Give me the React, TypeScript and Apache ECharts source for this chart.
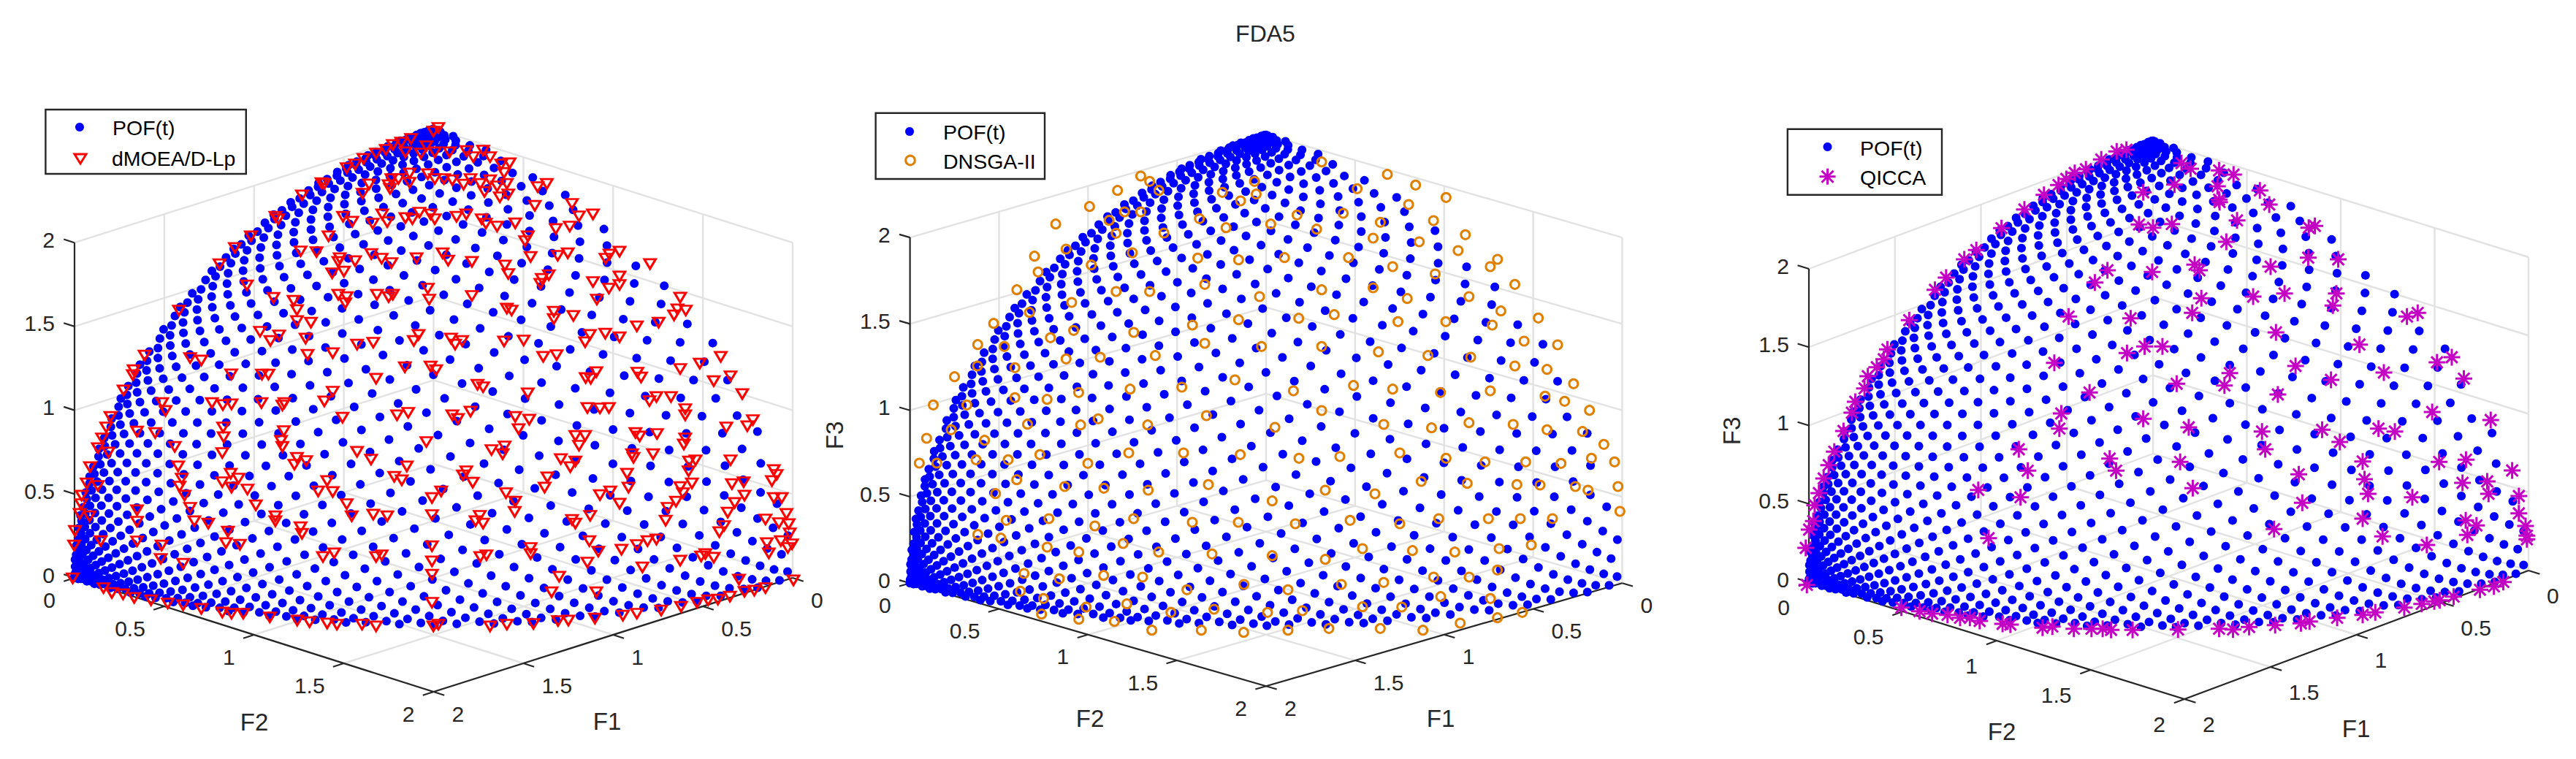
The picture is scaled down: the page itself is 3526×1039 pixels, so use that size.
import React, { useEffect, useRef } from "react";
import * as echarts from "echarts";

// ---- tick labels ----
const TICKS = [0, 0.5, 1, 1.5, 2];
const TICK_LABELS = ["0", "0.5", "1", "1.5", "2"];

// ---- POF(t) ----
// NOT read dot by dot: the picture's dots fit a regular lattice, so this is that inferred lattice,
// typed out and checked by eye against the reference. Each entry is the second surface coordinate
// (in 1/987ths) of one sample; the array position is the first surface coordinate, also in 1/987ths.
const POF_STEPS = 987;
const POF_WARP = 1.75;
const POF_X2 = [
  0,377,754,144,521,898,288,665,55,432,809,199,576,953,343,720,110,487,864,254,631,21,398,775,165,542,919,309,686,76,453,830,220,597,974,364,741,131,508,885,275,652,42,419,796,186,563,940,330,707,97,474,851,241,618,
  8,385,762,152,529,906,296,673,63,440,817,207,584,961,351,728,118,495,872,262,639,29,406,783,173,550,927,317,694,84,461,838,228,605,982,372,749,139,516,893,283,660,50,427,804,194,571,948,338,715,105,482,859,249,626,
  16,393,770,160,537,914,304,681,71,448,825,215,592,969,359,736,126,503,880,270,647,37,414,791,181,558,935,325,702,92,469,846,236,613,3,380,757,147,524,901,291,668,58,435,812,202,579,956,346,723,113,490,867,257,634,
  24,401,778,168,545,922,312,689,79,456,833,223,600,977,367,744,134,511,888,278,655,45,422,799,189,566,943,333,710,100,477,854,244,621,11,388,765,155,532,909,299,676,66,443,820,210,587,964,354,731,121,498,875,265,642,
  32,409,786,176,553,930,320,697,87,464,841,231,608,985,375,752,142,519,896,286,663,53,430,807,197,574,951,341,718,108,485,862,252,629,19,396,773,163,540,917,307,684,74,451,828,218,595,972,362,739,129,506,883,273,650,
  40,417,794,184,561,938,328,705,95,472,849,239,616,6,383,760,150,527,904,294,671,61,438,815,205,582,959,349,726,116,493,870,260,637,27,404,781,171,548,925,315,692,82,459,836,226,603,980,370,747,137,514,891,281,658,
  48,425,802,192,569,946,336,713,103,480,857,247,624,14,391,768,158,535,912,302,679,69,446,823,213,590,967,357,734,124,501,878,268,645,35,412,789,179,556,933,323,700,90,467,844,234,611,1,378,755,145,522,899,289,666,
  56,433,810,200,577,954,344,721,111,488,865,255,632,22,399,776,166,543,920,310,687,77,454,831,221,598,975,365,742,132,509,886,276,653,43,420,797,187,564,941,331,708,98,475,852,242,619,9,386,763,153,530,907,297,674,
  64,441,818,208,585,962,352,729,119,496,873,263,640,30,407,784,174,551,928,318,695,85,462,839,229,606,983,373,750,140,517,894,284,661,51,428,805,195,572,949,339,716,106,483,860,250,627,17,394,771,161,538,915,305,682,
  72,449,826,216,593,970,360,737,127,504,881,271,648,38,415,792,182,559,936,326,703,93,470,847,237,614,4,381,758,148,525,902,292,669,59,436,813,203,580,957,347,724,114,491,868,258,635,25,402,779,169,546,923,313,690,
  80,457,834,224,601,978,368,745,135,512,889,279,656,46,423,800,190,567,944,334,711,101,478,855,245,622,12,389,766,156,533,910,300,677,67,444,821,211,588,965,355,732,122,499,876,266,643,33,410,787,177,554,931,321,698,
  88,465,842,232,609,986,376,753,143,520,897,287,664,54,431,808,198,575,952,342,719,109,486,863,253,630,20,397,774,164,541,918,308,685,75,452,829,219,596,973,363,740,130,507,884,274,651,41,418,795,185,562,939,329,706,
  96,473,850,240,617,7,384,761,151,528,905,295,672,62,439,816,206,583,960,350,727,117,494,871,261,638,28,405,782,172,549,926,316,693,83,460,837,227,604,981,371,748,138,515,892,282,659,49,426,803,193,570,947,337,714,
  104,481,858,248,625,15,392,769,159,536,913,303,680,70,447,824,214,591,968,358,735,125,502,879,269,646,36,413,790,180,557,934,324,701,91,468,845,235,612,2,379,756,146,523,900,290,667,57,434,811,201,578,955,345,722,
  112,489,866,256,633,23,400,777,167,544,921,311,688,78,455,832,222,599,976,366,743,133,510,887,277,654,44,421,798,188,565,942,332,709,99,476,853,243,620,10,387,764,154,531,908,298,675,65,442,819,209,586,963,353,730,
  120,497,874,264,641,31,408,785,175,552,929,319,696,86,463,840,230,607,984,374,751,141,518,895,285,662,52,429,806,196,573,950,340,717,107,484,861,251,628,18,395,772,162,539,916,306,683,73,450,827,217,594,971,361,738,
  128,505,882,272,649,39,416,793,183,560,937,327,704,94,471,848,238,615,5,382,759,149,526,903,293,670,60,437,814,204,581,958,348,725,115,492,869,259,636,26,403,780,170,547,924,314,691,81,458,835,225,602,979,369,746,
  136,513,890,280,657,47,424,801,191,568,945,335,712,102,479,856,246,623,13,390,767,157,534,911,301,678,68,445,822,212,589,966,356,733,123,500,877,267,644,34,411,788,178,555,932,322,699,89,466,843,233,610,
];

// ---- solution sets, as read in the plane of each subplot, per quadrant ----
const RED_UL = [[1550,150],[1525,210],[1555,235],[1505,240],[1450,235],[1435,195],[1405,205],[1470,180],[1380,225],[1345,240],[1300,262],[1270,285],[1240,300],[1160,365],[1150,362],[1080,412],[985,500],[995,510],[897,580],[840,628],[785,695],[1465,322],[1530,325],[1555,345],[1400,345],[1425,345],[1465,360],[1320,367],[1395,385],[1297,405],[1390,370],[1227,500],[1260,520],[1367,490],[1385,522],[1333,528],[1450,505],[1475,510],[1500,483],[1540,490],[1555,510],[1175,580],[1075,642],[1132,645],[1215,670],[1270,682],[1210,685],[1230,725],[1188,732],[1328,653],[1365,672],[1400,690],[1490,670],[1530,795],[1535,840],[883,782],[978,833],[1050,845],[1062,883],[1062,928],[1112,935],[1210,820],[1240,830],[1235,855],[1348,820],[1390,830],[1405,820],[640,885],[930,972],[967,1010],[998,987],[1093,1000],[1100,1067],[1190,1060],[1277,1025],[1335,1017],[1480,1010],[1497,985],[517,1070],[478,1130],[475,1150],[680,1080],[720,1090],[827,1147],[937,1148],[960,1148],[442,1213],[580,1265],[592,1297],[758,1265],[797,1273],[828,1270],[935,1265],[1017,1265],[1010,1275],[1160,1258],[1190,1218],[1345,1165],[1448,1118],[1540,1115],[1560,1130],[395,1322],[1225,1325],[1420,1315],[1460,1305]];
const RED_LL = [[380,15],[490,32],[555,38],[798,15],[800,55],[795,120],[365,60],[350,100],[388,118],[625,95],[322,178],[637,175],[650,225],[642,258],[825,205],[795,240],[853,225],[828,262],[885,270],[310,245],[350,255],[1015,30],[1005,70],[1010,95],[1062,140],[1095,153],[1053,168],[1277,115],[1327,147],[1170,235],[1138,278],[1190,280],[1455,175],[1410,218],[1437,232],[1525,75],[292,295],[290,330],[285,370],[320,380],[660,295],[680,345],[915,335],[985,380],[985,400],[1240,330],[1258,380],[1335,373],[1385,380],[490,355],[490,402],[695,400],[745,410],[1075,425],[1080,452],[1545,305],[1545,375],[268,440],[265,500],[360,482],[490,483],[578,500],[815,443],[808,490],[858,497],[1155,547],[1195,532],[1345,547],[1365,540],[1545,503],[1545,565],[575,555],[655,575],[1545,620],[1545,735],[260,635],[370,675],[400,695],[440,700],[480,715],[540,725],[600,738],[655,745],[720,760],[795,775],[828,780],[870,780],[965,795],[1063,808],[1107,815],[1170,820],[1205,825],[1295,825],[1345,832],[1550,832]];
const RED_UR = [[0,135],[40,235],[100,230],[125,255],[160,228],[185,255],[225,285],[255,280],[235,320],[20,345],[50,350],[90,368],[115,345],[150,365],[165,398],[185,350],[210,375],[245,365],[220,420],[250,408],[355,378],[388,365],[345,455],[478,447],[503,498],[553,490],[65,500],[100,490],[155,510],[170,528],[210,540],[275,527],[420,550],[470,540],[320,580],[310,600],[15,650],[35,680],[120,685],[238,700],[250,735],[330,665],[427,660],[463,650],[598,672],[612,655],[648,643],[757,694],[370,755],[395,740],[365,775],[648,745],[553,768],[648,780],[610,795],[567,840],[865,832],[120,825],[245,877],[262,885],[413,890],[413,920],[483,907],[855,880],[885,885],[843,905],[788,935],[710,950],[542,985],[525,1015],[597,980],[648,995],[45,1000],[85,1010],[60,1025],[235,1012],[305,1008],[375,1075],[423,1068],[935,1103],[1010,1075],[865,1125],[985,1175],[1045,1155],[527,1162],[565,1138],[545,1165],[712,1140],[725,1160],[140,1190],[160,1200],[320,1225],[755,1257],[780,1240],[832,1240],[1087,1228],[533,1285],[578,1287],[610,1285],[883,1290],[883,1315],[50,1315],[115,1300],[70,1330],[275,1322],[325,1333],[1125,1335]];
const RED_LR = [[1105,10],[1030,15],[287,22],[490,50],[525,50],[503,90],[705,38],[782,42],[720,52],[883,60],[878,85],[190,108],[237,93],[230,125],[438,145],[490,155],[472,178],[693,125],[698,140],[768,125],[897,155],[920,150],[1045,150],[895,195],[1200,190],[1210,210],[1193,235],[100,195],[88,212],[123,242],[390,220],[380,262],[675,205],[680,262],[907,245],[1050,248],[1092,240],[865,260],[875,285],[242,285],[275,320],[273,362],[10,278],[578,293],[615,278],[648,328],[1095,295],[1060,325],[1200,305],[1228,305],[850,320],[820,345],[1035,365],[1245,370],[148,378],[133,400],[160,410],[478,395],[490,410],[543,378],[813,398],[1170,393],[1218,408],[1253,412],[1022,420],[1005,445],[1257,450],[330,510],[540,482],[572,525],[655,517],[710,498],[748,482],[780,475],[1175,490],[1225,482],[1250,510],[1265,495],[1182,532],[150,547],[172,540],[330,535],[533,570],[865,562],[730,590],[940,545],[955,535],[985,550],[432,628],[1075,640],[1270,643],[405,692],[565,692],[428,810],[465,808],[560,800],[660,788],[710,780],[797,767],[868,752],[925,735],[965,725],[1000,722],[1043,710],[1095,690],[1130,685],[1170,675],[185,832],[245,825],[340,822],[0,825]];

const ORANGE_UL = [[1075,333],[1107,355],[1140,392],[992,392],[1482,355],[1367,400],[1488,407],[1432,435],[892,458],[1017,480],[1075,480],[962,515],[771,530],[1285,508],[1158,567],[987,568],[1380,545],[1540,530],[808,633],[695,662],[1045,648],[1279,670],[1425,677],[898,698],[708,727],[632,800],[987,807],[1107,807],[1304,778],[1500,828],[828,852],[677,893],[549,938],[1260,945],[1425,923],[835,967],[752,997],[1050,975],[492,1025],[587,1033],[1304,1020],[1507,1033],[930,1077],[1127,1070],[808,1084],[491,1113],[625,1120],[409,1157],[1412,1170],[1222,1200],[1037,1208],[853,1222],[625,1243],[740,1250],[333,1273],[453,1273],[1310,1317],[923,1330],[670,1352],[860,1355],[1100,1355],[397,1375],[1555,1365]];
const ORANGE_UR = [[285,215],[520,266],[621,310],[412,325],[730,361],[596,390],[362,426],[197,433],[685,456],[495,463],[267,491],[799,514],[469,528],[634,543],[773,579],[152,608],[381,608],[914,615],[888,645],[539,645],[691,675],[976,718],[285,740],[469,732],[812,768],[591,776],[926,827],[1060,856],[203,857],[330,842],[558,871],[729,871],[895,885],[1009,951],[1129,966],[285,973],[488,995],[665,1010],[818,1017],[976,1053],[1091,1067],[1186,1126],[184,1155],[399,1133],[539,1148],[710,1162],[888,1155],[1084,1177],[1154,1198],[1243,1235],[285,1236],[507,1293],[678,1307],[812,1286],[970,1293],[1091,1315],[1218,1322]];
const ORANGE_LL = [[85,102],[157,102],[318,88],[450,88],[580,67],[777,103],[945,60],[1170,60],[1403,67],[485,170],[682,198],[843,205],[1025,213],[1272,190],[398,227],[617,330],[442,337],[965,330],[806,360],[1206,345],[1395,345],[325,395],[420,410],[922,432],[610,447],[740,467],[1068,467],[1287,475],[515,555],[660,577],[842,563],[1002,570],[1418,600],[500,628],[1184,622],[595,658],[937,680],[770,693],[1295,702],[1118,715],[587,722],[740,743],[886,752],[1040,788],[1243,788],[1417,797],[115,0],[353,8]];
const ORANGE_LR = [[1396,25],[1345,82],[1440,97],[1220,103],[1075,97],[908,97],[748,82],[558,60],[312,75],[144,82],[646,177],[835,185],[1039,190],[1134,192],[1279,198],[1331,213],[1454,198],[252,213],[456,228],[34,257],[1462,300],[922,330],[1053,330],[1185,330],[718,330],[354,337],[558,351],[129,351],[1098,438],[966,453],[405,453],[784,467],[610,461],[252,497],[34,482],[959,541],[843,570],[697,570],[492,592],[318,600],[99,622],[930,658],[726,650],[405,692],[566,693],[158,708],[15,715],[1061,715],[959,737],[806,759],[653,788],[478,781],[267,781],[99,788]];

const MAGENTA_UL = [[1465,225],[1430,232],[1375,265],[1320,305],[1280,320],[1250,345],[1222,370],[1170,410],[1100,470],[1018,547],[928,637],[885,675],[820,750],[780,800],[688,925],[610,1045],[597,1085],[572,1118],[540,1155],[528,1205],[495,1260],[483,1305],[1525,400],[1510,532],[1560,545],[1397,720],[1352,770],[1557,727],[1258,910],[1480,917],[1530,1033],[1467,1060],[1207,1100],[1333,1222],[1232,1308],[1525,1330]];
const MAGENTA_LL = [[453,30],[420,115],[400,170],[382,225],[365,285],[350,335],[345,400],[330,435],[318,510],[1225,20],[1080,105],[1405,143],[1428,193],[1112,193],[935,272],[1086,302],[972,470],[322,662],[660,755],[725,770],[770,780],[825,785],[870,797],[905,797],[940,810],[1022,822],[1050,825],[1165,838],[1200,833],[1277,842],[1340,842],[1380,842],[1410,847],[1487,847]];
const MAGENTA_UR = [[98,280],[132,303],[238,310],[292,327],[232,375],[72,368],[390,392],[238,430],[240,440],[425,450],[62,530],[305,515],[572,545],[595,538],[265,603],[147,697],[165,720],[570,668],[682,675],[430,705],[172,835],[138,895],[482,815],[365,828],[675,815],[662,865],[938,910],[978,895],[450,975],[27,1033],[761,1025],[1105,1077],[1050,1098],[523,1113],[278,1142],[852,1140],[1150,1165],[655,1170],[258,1193],[80,1186],[457,1230],[1032,1302],[1250,1335]];
const MAGENTA_LR = [[125,15],[398,32],[622,25],[832,20],[893,32],[410,105],[688,75],[93,157],[773,155],[1058,157],[1158,148],[1330,192],[535,208],[780,228],[1145,243],[1237,237],[140,265],[793,288],[958,302],[1242,288],[1355,297],[548,325],[1355,368],[773,390],[1157,397],[1197,418],[1380,420],[443,433],[847,463],[1163,457],[1385,460],[1012,498],[1385,475],[1297,650],[1262,668],[1210,682],[1112,710],[1060,725],[993,740],[928,755],[820,775],[773,785],[678,797],[575,812],[543,820],[447,827],[350,835],[290,845],[238,842],[85,845],[1040,730]];

const BLUE = "#0000ff", RED = "#ff0000", ORANGE = "#e07f00", MAGENTA = "#c400c4";
const INK = "#262626", GRIDLINE = "#e2e2e2", FONT = "Liberation Sans";

type View = { x0: number; yb: number; al: number; bl: number; ar: number; br: number; c: number; left: number; right: number; top: number; bottom: number };
const VIEWS: View[] = [
  { x0: 593.5, yb: 635, al: 245.75, bl: 78, ar: 245.75, br: 78, c: 229.4, left: 0, right: 1150, top: 100, bottom: 1030 },
  { x0: 1733, yb: 657.3, al: 243.7, bl: 70.5, ar: 243.7, br: 70.5, c: 236.6, left: 1150, right: 2310, top: 100, bottom: 1030 },
  { x0: 2947, yb: 621, al: 235.5, bl: 88, ar: 257, br: 80, c: 214.5, left: 2310, right: 3526, top: 100, bottom: 1030 },
];

const project = (v: View, f1: number, f2: number, f3: number) => [v.ar * f2 - v.al * f1, v.c * f3 - v.bl * f1 - v.br * f2];

// surface coordinates -> the octant of radius 2 -> the plane of one subplot
const onSurface = (v: View, x1: number, x2: number) => {
  const e = Math.pow(x1, POF_WARP) * Math.PI / 2;
  const b = Math.pow(x2, POF_WARP) * Math.PI / 2;
  return project(v, 2 * Math.cos(e) * Math.cos(b), 2 * Math.cos(e) * Math.sin(b), 2 * Math.sin(e));
};
const pofPoints = (v: View) => POF_X2.map((n, k) => onSurface(v, k / POF_STEPS, n / POF_STEPS));

// readings of one quadrant crop -> subplot plane
const readings = (v: View, set: number[][], fx: number, fy: number, sx: number, sy: number) =>
  set.map(([a, b]) => [fx + a / sx - v.x0, v.yb - (fy + b / sy)]);

const TRIANGLE = "path://M0,0L10,0L5,8.5Z";
const ASTERISK = "path://M5,0L5,10M0,5L10,5M1.6,1.6L8.4,8.4M8.4,1.6L1.6,8.4";

const App = () => {
  const ref = useRef<HTMLDivElement>(null);
  useEffect(() => {
    document.body.style.margin = "0";
    document.body.style.overflow = "hidden";
    const chart = echarts.init(ref.current!, undefined, { renderer: "svg" });

    const series: any[] = [];
    const graphic: any[] = [];
    const text = (t: string, x: number, y: number, size: number, align = "center", rotation = 0) =>
      graphic.push({ type: "text", x, y, rotation, silent: true, z: 20, style: { text: t, fontSize: size, fontFamily: FONT, fill: INK, textAlign: align, textVerticalAlign: "middle" } });

    VIEWS.forEach((v, idx) => {
      const seg = (a: number[], b: number[], color: string, width: number, z: number) =>
        series.push({ type: "line", xAxisIndex: idx, yAxisIndex: idx, data: [project(v, a[0], a[1], a[2]), project(v, b[0], b[1], b[2])], showSymbol: false, symbol: "none", silent: true, z, lineStyle: { color, width, cap: "butt" } });

      TICKS.forEach((t) => {
        if (t < 2) seg([t, 0, 0], [t, 0, 2], GRIDLINE, 2.4, 1);
        if (t > 0) seg([0, t, 0], [0, t, 2], GRIDLINE, 2.4, 1);
        if (t > 0) seg([0, 0, t], [2, 0, t], GRIDLINE, 2.4, 1);
        if (t > 0) seg([0, 0, t], [0, 2, t], GRIDLINE, 2.4, 1);
        seg([t, 0, 0], [t, 2, 0], GRIDLINE, 2.4, 1);
        seg([0, t, 0], [2, t, 0], GRIDLINE, 2.4, 1);
      });
      seg([2, 0, 0], [2, 0, 2], INK, 2.2, 2);
      seg([2, 0, 0], [2, 2, 0], INK, 2.2, 2);
      seg([0, 2, 0], [2, 2, 0], INK, 2.2, 2);
      TICKS.forEach((t) => {
        seg([2, 0, t], [2, -0.06, t], INK, 2.2, 2);
        seg([2, t, 0], [2.06, t, 0], INK, 2.2, 2);
        seg([t, 2, 0], [t, 2.06, 0], INK, 2.2, 2);
      });

      series.push({ type: "scatter", name: "POF(t)", xAxisIndex: idx, yAxisIndex: idx, data: pofPoints(v), symbol: "circle", symbolSize: 12, silent: true, z: 3, itemStyle: { color: BLUE, opacity: 1 } });

      const px = (p: number[]) => [v.x0 + p[0], v.yb - p[1]];
      const dy = idx === 2 ? 34 : 30;
      TICKS.forEach((t, k) => {
        const zt = px(project(v, 2, 0, t));
        text(TICK_LABELS[k], zt[0] - 27, zt[1] - 4, 30, "right");
        const f2t = px(project(v, 2, t, 0));
        text(TICK_LABELS[k], f2t[0] - 26, f2t[1] + dy, 30, "right");
        const f1t = px(project(v, t, 2, 0));
        text(TICK_LABELS[k], f1t[0] + 25, f1t[1] + dy, 30, "left");
      });
    });

    const addSet = (idx: number, name: string, data: number[][], symbol: string, size: any, color: string, width: number) =>
      series.push({ type: "scatter", name, xAxisIndex: idx, yAxisIndex: idx, data, symbol, symbolSize: size, silent: true, z: 4, itemStyle: { color: "transparent", borderColor: color, borderWidth: width, opacity: 1 } });

    const [p1, p2, p3] = VIEWS;
    addSet(0, "dMOEA/D-Lp", [
      ...readings(p1, RED_UL, 0, 130, 2.613, 3), ...readings(p1, RED_LL, 0, 580, 2.613, 3),
      ...readings(p1, RED_UR, 600, 130, 2.613, 3), ...readings(p1, RED_LR, 600, 580, 2.613, 3),
    ], TRIANGLE, [15.5, 13], RED, 3);
    addSet(1, "DNSGA-II", [
      ...readings(p2, ORANGE_UL, 1150, 130, 2.613, 3), ...readings(p2, ORANGE_UR, 1700, 150, 2.613, 3),
      ...readings(p2, ORANGE_LL, 1230, 600, 3, 3), ...readings(p2, ORANGE_LR, 1730, 600, 3, 3),
    ], "circle", 12, ORANGE, 3);
    addSet(2, "QICCA", [
      ...readings(p3, MAGENTA_UL, 2350, 130, 2.613, 3), ...readings(p3, MAGENTA_LL, 2350, 580, 2.613, 3),
      ...readings(p3, MAGENTA_UR, 2950, 130, 2.722, 3), ...readings(p3, MAGENTA_LR, 2950, 580, 2.722, 3),
    ], ASTERISK, 23, MAGENTA, 3);

    text("FDA5", 1732, 46, 32);
    text("F2", 348, 988, 33); text("F1", 831, 987, 33);
    text("F2", 1492, 983, 33); text("F1", 1972, 983, 33); text("F3", 1142, 596, 33, "center", Math.PI / 2);
    text("F2", 2740, 1001, 33); text("F1", 3225, 997, 33); text("F3", 2370, 590, 33, "center", Math.PI / 2);

    const box = (x1: number, y1: number, x2: number, y2: number) =>
      graphic.push({ type: "rect", z: 30, silent: true, shape: { x: x1, y: y1, width: x2 - x1, height: y2 - y1 }, style: { fill: "#fff", stroke: INK, lineWidth: 2.4 } });
    const leg = (t: string, x: number, y: number) =>
      graphic.push({ type: "text", x, y, z: 31, silent: true, style: { text: t, fontSize: 28.5, fontFamily: FONT, fill: "#000", textAlign: "left", textVerticalAlign: "middle" } });
    const dot = (x: number, y: number) =>
      graphic.push({ type: "circle", z: 31, silent: true, shape: { cx: x, cy: y, r: 6 }, style: { fill: BLUE } });

    box(62.4, 150, 336.8, 238);
    dot(109, 174); leg("POF(t)", 154, 175);
    graphic.push({ type: "polygon", z: 31, silent: true, shape: { points: [[102, 211], [118, 211], [110, 224]] }, style: { fill: "transparent", stroke: RED, lineWidth: 3 } });
    leg("dMOEA/D-Lp", 153, 217);

    box(1198.6, 154.7, 1430, 245);
    dot(1245, 180); leg("POF(t)", 1291, 181);
    graphic.push({ type: "circle", z: 31, silent: true, shape: { cx: 1246, cy: 219.5, r: 6.3 }, style: { fill: "transparent", stroke: ORANGE, lineWidth: 3 } });
    leg("DNSGA-II", 1291, 221);

    box(2446.8, 176.7, 2658, 266.7);
    dot(2501.5, 201); leg("POF(t)", 2546, 203);
    const ax = 2501.5, ay = 241.7, r = 11, d = 8;
    [[0, -r, 0, r], [-r, 0, r, 0], [-d, -d, d, d], [d, -d, -d, d]].forEach(([a, b, c, e]) =>
      graphic.push({ type: "line", z: 31, silent: true, shape: { x1: ax + a, y1: ay + b, x2: ax + c, y2: ay + e }, style: { stroke: MAGENTA, lineWidth: 3 } }));
    leg("QICCA", 2546, 243);

    const grids = VIEWS.map((v) => ({ left: v.left, width: v.right - v.left, top: v.top, height: v.bottom - v.top, containLabel: false }));
    const xAxes = VIEWS.map((v, i) => ({ type: "value", gridIndex: i, show: false, min: v.left - v.x0, max: v.right - v.x0 }));
    const yAxes = VIEWS.map((v, i) => ({ type: "value", gridIndex: i, show: false, min: v.yb - v.bottom, max: v.yb - v.top }));

    chart.setOption({ animation: false, backgroundColor: "#fff", grid: grids, xAxis: xAxes, yAxis: yAxes, series, graphic });
    return () => chart.dispose();
  }, []);
  return <div ref={ref} style={{ position: "absolute", left: 0, top: 0, width: 3526, height: 1039 }} />;
};

export default App;
